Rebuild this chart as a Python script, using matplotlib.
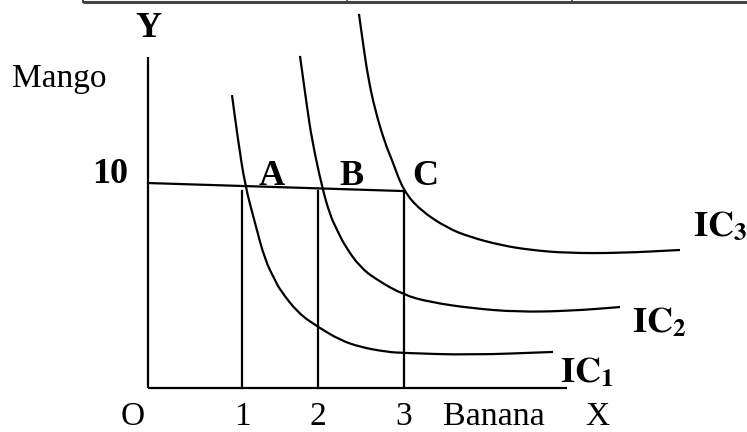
import matplotlib
matplotlib.use("Agg")
import matplotlib.pyplot as plt
from matplotlib.path import Path
from matplotlib.patches import PathPatch

# ---- data (banana units on x, mango units on y) ----
ic1_x = [0.988, 1.059, 1.141, 1.259, 1.376, 1.494, 1.553, 1.765, 2.000, 2.259, 2.494, 2.812, 3.012, 3.788, 4.765]
ic1_y = [14.22, 12.04, 9.85, 8.01, 6.21, 5.24, 4.76, 3.64, 2.96, 2.33, 1.99, 1.75, 1.70, 1.60, 1.75]

ic2_x = [1.788, 1.871, 1.929, 2.047, 2.141, 2.224, 2.318, 2.494, 2.694, 3.012, 3.318, 3.788, 4.341, 4.965, 5.553]
ic2_y = [16.12, 13.64, 12.04, 9.76, 8.40, 7.67, 6.89, 5.87, 5.24, 4.51, 4.17, 3.88, 3.69, 3.74, 3.93]

ic3_x = [2.482, 2.529, 2.588, 2.671, 2.788, 2.871, 3.000, 3.200, 3.518, 3.788, 4.141, 4.494, 4.929, 5.553, 6.259]
ic3_y = [18.16, 16.75, 15.10, 13.50, 11.89, 11.07, 9.61, 8.64, 7.77, 7.33, 6.94, 6.70, 6.55, 6.55, 6.70]

budget_x = [0.0, 3.012]
budget_y = [9.95, 9.56]

banana_pos = [1.106, 2.0, 3.012]
banana_labels = ["1", "2", "3"]
point_labels = ["A", "B", "C"]
point_label_x = [1.459, 2.40, 3.259]
mango_level = 9.95
mango_label = "10"

ic_labels = ["1", "2", "3"]
ic_label_x = [4.847, 5.694, 6.41]
ic_label_y = [0.29, 2.72, 7.38]

x_axis_end = 4.929
y_axis_end = 16.07

# ---- figure ----
plt.rcParams["font.family"] = ["Liberation Serif", "DejaVu Serif"]
plt.rcParams["mathtext.fontset"] = "stix"

fig = plt.figure(figsize=(7.47, 4.32), dpi=100)
ax = fig.add_axes([0, 0, 1, 1])
ax.set_xlim(-148 / 85, (747 - 148) / 85)
ax.set_ylim(-44 / 20.6, 388 / 20.6)
ax.axis("off")

lw = 1.6
k = "black"


def smooth_curve(xs, ys):
    """Quadratic B-spline style path through the read points (drawn by matplotlib)."""
    pts = list(zip(xs, ys))
    verts = [pts[0]]
    codes = [Path.MOVETO]
    mid = lambda a, b: ((a[0] + b[0]) / 2, (a[1] + b[1]) / 2)
    verts.append(mid(pts[0], pts[1]))
    codes.append(Path.LINETO)
    for i in range(1, len(pts) - 1):
        verts += [pts[i], mid(pts[i], pts[i + 1])]
        codes += [Path.CURVE3, Path.CURVE3]
    verts.append(pts[-1])
    codes.append(Path.LINETO)
    return PathPatch(Path(verts, codes), facecolor="none", edgecolor=k,
                     lw=lw, capstyle="butt", joinstyle="round")


# table border remnant at the top
ax.plot([-0.765, 7.1], [18.76, 18.76], color="#444444", lw=2.2, solid_capstyle="butt")
ax.plot([-0.765, -0.765], [18.76, 18.9], color="#444444", lw=1.5)
for xd in [2.34, 4.988]:
    ax.plot([xd, xd], [18.7, 18.9], color="#444444", lw=1.2)

# axes
ax.plot([0, 0], [0, y_axis_end], color=k, lw=lw, solid_capstyle="butt")
ax.plot([0, x_axis_end], [0, 0], color=k, lw=lw, solid_capstyle="butt")

# budget line and verticals
ax.plot(budget_x, budget_y, color=k, lw=lw)
for xp in banana_pos:
    ax.plot([xp, xp], [0, budget_y[1]], color=k, lw=lw)

# indifference curves
for xs, ys in [(ic1_x, ic1_y), (ic2_x, ic2_y), (ic3_x, ic3_y)]:
    ax.add_patch(smooth_curve(xs, ys))

fs = 24
fsb = 26
# labels
ax.text(0, 17.04, "Y", fontsize=fsb, fontweight="bold", ha="center", va="baseline")
ax.text(-1.6, 14.61, "Mango", fontsize=24, ha="left", va="baseline")
ax.text(-0.235, mango_level, mango_label, fontsize=fsb, fontweight="bold", ha="right", va="baseline")
for lab, xl in zip(point_labels, point_label_x):
    ax.text(xl, 9.85, lab, fontsize=fsb, fontweight="bold", ha="center", va="baseline")

base = -1.78
ax.text(-0.176, base, "O", fontsize=fs, ha="center", va="baseline")
for xp, lab in zip(banana_pos, banana_labels):
    ax.text(xp, base, lab, fontsize=fs, ha="center", va="baseline")
ax.text(3.47, base, "Banana", fontsize=fs + 0.5, ha="left", va="baseline")
ax.text(5.29, base, "X", fontsize=fs, ha="center", va="baseline")

for lab, xl, yl in zip(ic_labels, ic_label_x, ic_label_y):
    ax.text(xl, yl, r"$\mathbf{IC}_{\mathbf{" + lab + "}}$", fontsize=fsb,
            ha="left", va="baseline")

fig.savefig("out.png", dpi=100)
